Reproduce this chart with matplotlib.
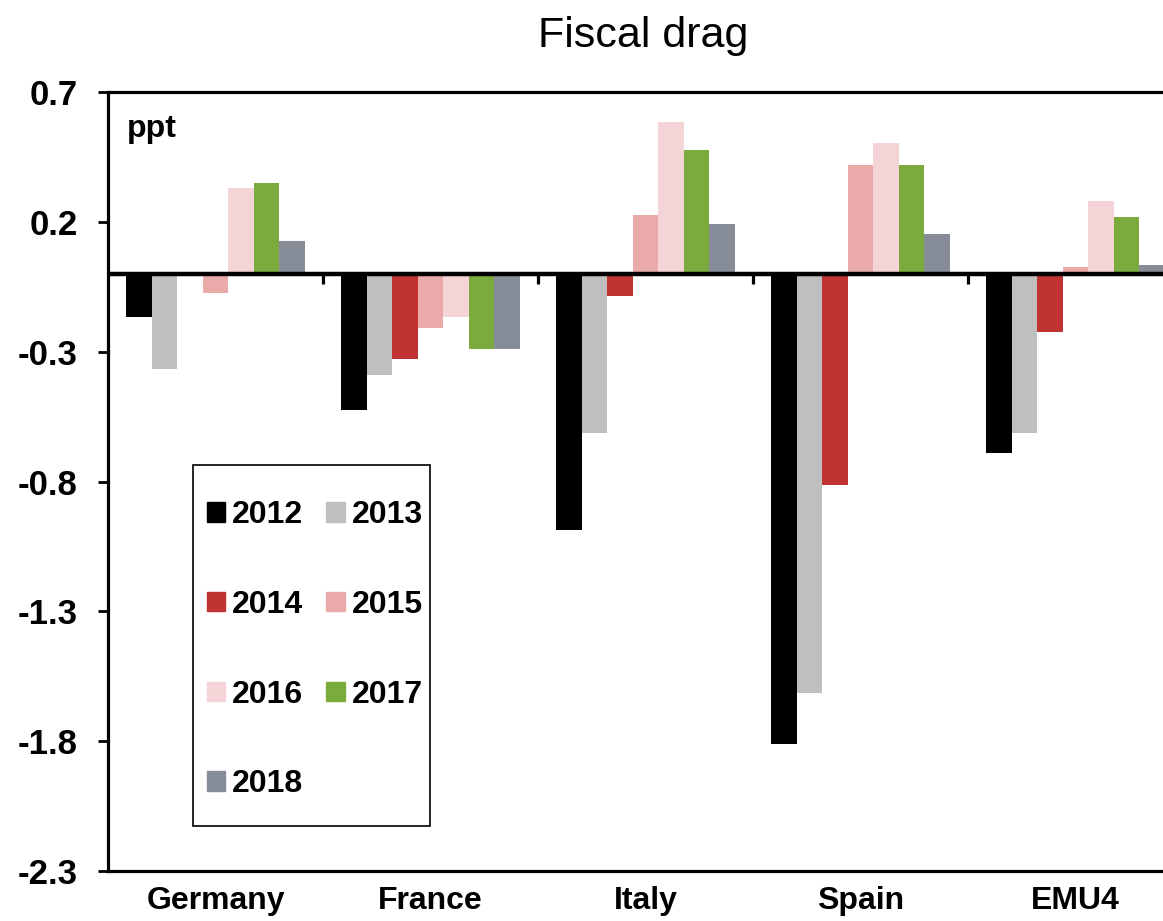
import numpy as np
import matplotlib
matplotlib.use("Agg")
import matplotlib.pyplot as plt
from matplotlib.patches import Patch, Rectangle

plt.rcParams['font.family'] = ['Liberation Sans', 'DejaVu Sans']

countries = ['Germany', 'France', 'Italy', 'Spain', 'EMU4']
years = ['2012', '2013', '2014', '2015', '2016', '2017', '2018']
colors = ['#000000', '#BFBFBF', '#BF3333', '#EAAAAA', '#F4D4D6', '#7AAB3C', '#878C99']

v2012 = [-0.165, -0.525, -0.985, -1.81, -0.69]
v2013 = [-0.365, -0.39, -0.615, -1.615, -0.615]
v2014 = [0.006, -0.33, -0.085, -0.815, -0.225]
v2015 = [-0.073, -0.21, 0.227, 0.419, 0.027]
v2016 = [0.33, -0.165, 0.585, 0.504, 0.28]
v2017 = [0.35, -0.29, 0.477, 0.419, 0.219]
v2018 = [0.127, -0.288, 0.192, 0.154, 0.035]
series = [v2012, v2013, v2014, v2015, v2016, v2017, v2018]

fig = plt.figure(figsize=(11.63, 9.21), dpi=100)
ax = fig.add_axes([108 / 1163, 50 / 921, 1075 / 1163, 779 / 921])

x = np.arange(len(countries))
bw = 0.119
for i, vals in enumerate(series):
    ax.bar(x + (i - 3) * bw, vals, bw, color=colors[i], label=years[i],
           edgecolor='none', zorder=2)

ax.set_xlim(-0.5, len(countries) - 0.5)
ax.set_ylim(-2.3, 0.7)
ax.set_yticks([0.7, 0.2, -0.3, -0.8, -1.3, -1.8, -2.3])
ax.set_yticklabels(['0.7', '0.2', '-0.3', '-0.8', '-1.3', '-1.8', '-2.3'])
ax.set_xticks(x)
ax.set_xticklabels(countries)

ax.tick_params(axis='y', direction='out', length=7, width=2, pad=15,
               labelsize=25)
ax.tick_params(axis='x', length=0, pad=11, labelsize=23)
for lab in ax.get_yticklabels() + ax.get_xticklabels():
    lab.set_fontweight('bold')

for s in ['left', 'top', 'bottom']:
    ax.spines[s].set_linewidth(2.3)
ax.spines['right'].set_visible(False)

# zero line and category separators
ax.axhline(0, color='black', lw=3.2, zorder=3)
ax.vlines(x[:-1] + 0.5, -0.038, 0, color='black', lw=2.3, zorder=3)

ax.text(0.018, 0.972, 'ppt', transform=ax.transAxes, fontsize=23,
        fontweight='bold', va='top', ha='left')

fig.text(0.553, 0.961, 'Fiscal drag', fontsize=31, ha='center', va='center')

handles = [Patch(color=c) for c in colors]
order = [0, 2, 4, 6, 1, 3, 5]
leg = ax.legend([handles[i] for i in order], [years[i] for i in order],
                ncol=2, loc='upper left', bbox_to_anchor=(0.0921, 0.476),
                prop={'weight': 'bold', 'size': 23},
                frameon=False,
                labelspacing=1.87, handlelength=0.57, handleheight=0.57,
                handletextpad=0.22, columnspacing=0.72, borderpad=0,
                borderaxespad=0)

# legend frame
ax.add_patch(Rectangle((85 / 1075, 45 / 779), 237 / 1075, 361 / 779,
                       transform=ax.transAxes, fill=False, edgecolor='black',
                       lw=1.2, zorder=4))

fig.savefig('out.png', dpi=100)
